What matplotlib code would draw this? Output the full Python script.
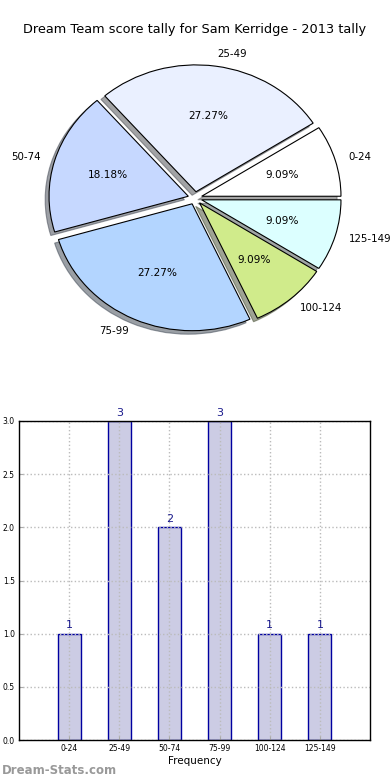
import matplotlib
matplotlib.use("Agg")
import matplotlib.pyplot as plt
import numpy as np

categories = ["0-24", "25-49", "50-74", "75-99", "100-124", "125-149"]
counts = [1, 3, 2, 3, 1, 1]
pie_colors = ["#ffffff", "#eaf0ff", "#c6d8ff", "#b3d5ff", "#d0eb8b", "#dcffff"]

plt.rcParams['font.family'] = ['DejaVu Sans']

fig = plt.figure(figsize=(3.9, 7.8), dpi=100)

# Pie
axp = fig.add_axes([0.0, 0.5436, 1.0, 0.405])
wedges, texts, autotexts = axp.pie(
    counts, labels=categories, colors=pie_colors, explode=[0.05] * len(counts),
    autopct='%1.2f%%', shadow=True, startangle=0, counterclock=True,
    wedgeprops=dict(edgecolor='black', linewidth=0.8),
    textprops=dict(fontsize=7.6))
for t in texts:
    t.set_fontsize(7.4)
axp.set_aspect('auto')
axp.set_xlim(-1.4, 1.4)
axp.set_ylim(-1.245, 1.245)
axp.axis('off')
fig.text(0.5, 1 - 30 / 780, "Dream Team score tally for Sam Kerridge - 2013 tally",
         ha='center', va='center', fontsize=9.3)

# Bars
axb = fig.add_axes([19 / 390, 40 / 780, 351 / 390, 319 / 780])
x = np.arange(len(categories))
bars = axb.bar(x, counts, width=0.46, color='#ccccE4', edgecolor='#0000a0', linewidth=1.0, zorder=1)
for xi, c in zip(x, counts):
    axb.text(xi, c + 0.03, str(c), ha='center', va='bottom', color='#1a1a8c', fontsize=8)
axb.set_xlim(-1, 6)
axb.set_ylim(0, 3.0)
axb.set_xticks(x)
axb.set_xticklabels(categories, fontsize=5.5)
axb.set_yticks(np.arange(0, 3.01, 0.5))
axb.set_yticklabels([f"{v:.1f}" for v in np.arange(0, 3.01, 0.5)], fontsize=5.5)
axb.tick_params(direction='in', length=3, color='#aaaaaa', pad=3)
axb.grid(True, linestyle=':', color='#bbbbbb', linewidth=1.0, zorder=3)
axb.set_axisbelow(False)
for s in axb.spines.values():
    s.set_linewidth(1.0)
    s.set_zorder(5)
axb.set_xlabel("Frequency", fontsize=7.5, labelpad=2)

fig.text(2 / 390, 1 - 770 / 780, "Dream-Stats.com", ha='left', va='center',
         fontsize=8.5, color='#999999', fontweight='bold')

fig.savefig("out.png", dpi=100)
